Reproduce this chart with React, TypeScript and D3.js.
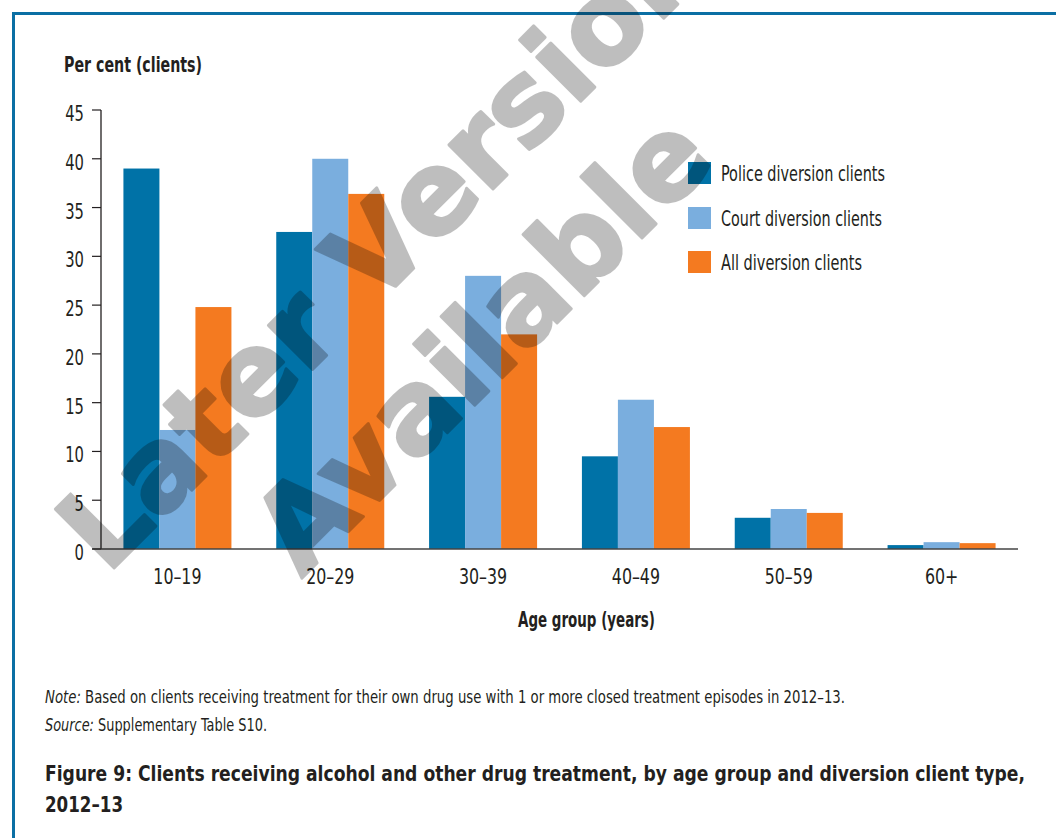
import React from "react";
import * as d3 from "d3";

const ageGroups = ["10–19", "20–29", "30–39", "40–49", "50–59", "60+"];
const seriesNames = ["Police diversion clients", "Court diversion clients", "All diversion clients"];
const policeValues = [39.0, 32.5, 15.6, 9.5, 3.2, 0.4];
const courtValues = [12.2, 40.0, 28.0, 15.3, 4.1, 0.7];
const allValues = [24.8, 36.4, 22.0, 12.5, 3.7, 0.6];
const yTicks = [0, 5, 10, 15, 20, 25, 30, 35, 40, 45];
const seriesColors = ["#0072a7", "#7aaede", "#f47a20"];

const W = 1056;
const H = 838;
const FONT = "'DejaVu Sans Condensed', 'Noto Sans', sans-serif";
const TXT = "#231f20";

export default function App() {
  const series = [policeValues, courtValues, allValues];
  const x = d3.scaleBand<string>().domain(ageGroups).range([101, 1018]).paddingInner(0.2933).paddingOuter(0.1467);
  const xs = d3.scaleBand<number>().domain([0, 1, 2]).range([0, x.bandwidth()]);
  const y = d3.scaleLinear().domain([0, 45]).range([549, 110]);

  const legendY = [162, 207, 251];
  const legendW = [164, 161, 141];

  return (
    <svg width={W} height={H} style={{ position: "absolute", left: 0, top: 0, background: "#fff" }} fontFamily={FONT}>
      <rect x={0} y={0} width={W} height={H} fill="#fff" />
      {/* frame */}
      <rect x={13.5} y={13.5} width={W + 20} height={H + 20} fill="none" stroke="#0b6fa4" strokeWidth={3} />

      {/* y axis title */}
      <text x={64} y={72} fontSize={21} fontWeight="bold" fill={TXT} textLength={138} lengthAdjust="spacingAndGlyphs">
        Per cent (clients)
      </text>

      {/* bars */}
      {series.map((vals, si) =>
        ageGroups.map((g, gi) => (
          <rect
            key={`${si}-${gi}`}
            x={(x(g) as number) + (xs(si) as number)}
            y={y(vals[gi])}
            width={xs.bandwidth()}
            height={y(0) - y(vals[gi])}
            fill={seriesColors[si]}
          />
        ))
      )}

      {/* y axis */}
      <line x1={101} x2={101} y1={y(45)} y2={y(0)} stroke={TXT} strokeWidth={1.3} />
      {yTicks.map((t) => (
        <g key={t}>
          <line x1={92} x2={101} y1={y(t)} y2={y(t)} stroke={TXT} strokeWidth={1.2} />
          <text transform={`translate(84,${y(t) + 11}) scale(0.78,1)`} fontSize={21} textAnchor="end" fill={TXT}>
            {t}
          </text>
        </g>
      ))}

      {/* x axis */}
      <line x1={92} x2={1018} y1={y(0)} y2={y(0)} stroke="#444" strokeWidth={1.6} />
      {ageGroups.map((g) => (
        <text
          key={g}
          transform={`translate(${(x(g) as number) + x.bandwidth() / 2},584) scale(0.8,1)`}
          fontSize={22}
          textAnchor="middle"
          fill={TXT}
        >
          {g}
        </text>
      ))}
      <text x={518} y={627} fontSize={22} fontWeight="bold" fill={TXT} textLength={137} lengthAdjust="spacingAndGlyphs">
        Age group (years)
      </text>

      {/* legend */}
      {seriesNames.map((n, i) => (
        <g key={n}>
          <rect x={688} y={legendY[i]} width={23} height={22} fill={seriesColors[i]} />
          <text x={721} y={legendY[i] + 19} fontSize={22} fill={TXT} textLength={legendW[i]} lengthAdjust="spacingAndGlyphs">
            {n}
          </text>
        </g>
      ))}

      {/* notes */}
      <text x={45} y={703} fontSize={18} fill={TXT} textLength={800} lengthAdjust="spacingAndGlyphs">
        <tspan fontStyle="italic">Note:</tspan> Based on clients receiving treatment for their own drug use with 1 or more closed treatment episodes in 2012–13.
      </text>
      <text x={45} y={731} fontSize={18} fill={TXT} textLength={222} lengthAdjust="spacingAndGlyphs">
        <tspan fontStyle="italic">Source:</tspan> Supplementary Table S10.
      </text>

      {/* figure title */}
      <text x={45} y={781} fontSize={22} fontWeight="bold" fill={TXT} textLength={980} lengthAdjust="spacingAndGlyphs">
        Figure 9: Clients receiving alcohol and other drug treatment, by age group and diversion client type,
      </text>
      <text x={45} y={812} fontSize={22} fontWeight="bold" fill={TXT} textLength={78} lengthAdjust="spacingAndGlyphs">
        2012–13
      </text>

      {/* watermark */}
      <g opacity={0.25}>
        <g
          transform="translate(460,321) rotate(-45)"
          fontFamily="'DejaVu Sans', sans-serif"
          fontWeight="bold"
          fontSize={114}
          fill="#000"
          stroke="#000"
          strokeWidth={3}
          strokeLinejoin="round"
          textAnchor="middle"
        >
          <text x={0} y={-70}>Later Version</text>
          <text x={0} y={70}>Available</text>
        </g>
      </g>
    </svg>
  );
}
